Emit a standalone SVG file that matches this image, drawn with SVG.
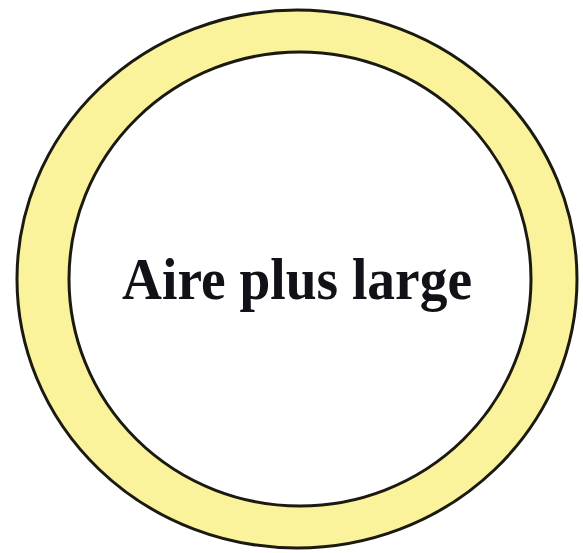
<svg xmlns="http://www.w3.org/2000/svg" width="583" height="553" viewBox="0 0 583 553">
<style>
.ring{stroke:#1a1a10;stroke-width:3}
.lbl{font-family:"Liberation Serif","Times New Roman",serif;font-weight:bold;font-size:59px;fill:#111118}
</style>
<rect width="583" height="553" fill="#ffffff"/>
<g id="ring">
<ellipse class="ring" cx="297" cy="279" rx="280" ry="269" fill="#FAF39B"/>
<ellipse class="ring" cx="300" cy="279" rx="231" ry="227" fill="#ffffff"/>
</g>
<g id="label">
<text class="lbl" x="122" y="299" textLength="350" lengthAdjust="spacingAndGlyphs">Aire plus large</text>
</g>
<g id="connectors"/>
</svg>
